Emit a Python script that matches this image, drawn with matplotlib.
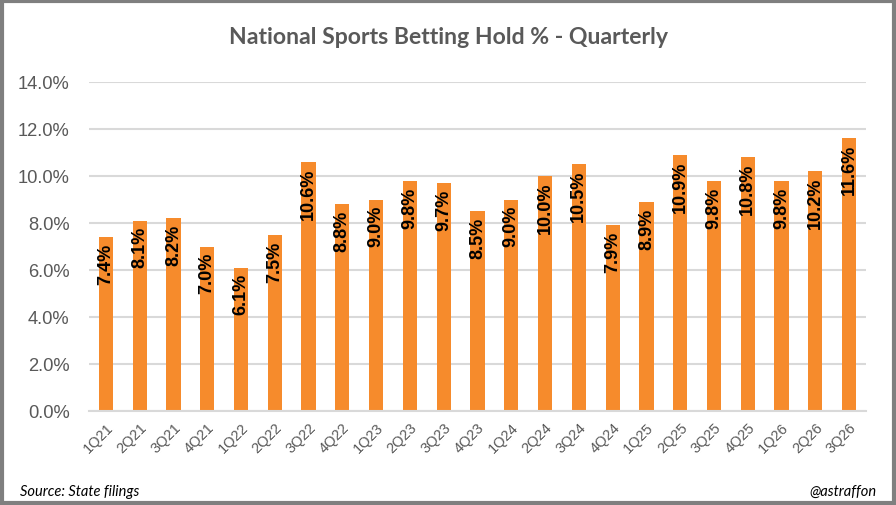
import matplotlib
matplotlib.use("Agg")
from matplotlib import pyplot as plt
from matplotlib.patches import Rectangle
from matplotlib.ticker import FuncFormatter, MultipleLocator

quarters = ["1Q21", "2Q21", "3Q21", "4Q21", "1Q22", "2Q22", "3Q22", "4Q22",
            "1Q23", "2Q23", "3Q23", "4Q23", "1Q24", "2Q24", "3Q24", "4Q24",
            "1Q25", "2Q25", "3Q25", "4Q25", "1Q26", "2Q26", "3Q26"]
hold_pct = [7.4, 8.1, 8.2, 7.0, 6.1, 7.5, 10.6, 8.8,
            9.0, 9.8, 9.7, 8.5, 9.0, 10.0, 10.5, 7.9,
            8.9, 10.9, 9.8, 10.8, 9.8, 10.2, 11.6]

BAR = "#F68B2C"
GRAY_TXT = "#595959"
GRID = "#D9D9D9"


def main():
  plt.rcParams["font.family"] = ["Liberation Sans", "DejaVu Sans"]

  fig = plt.figure(figsize=(8.96, 5.06), dpi=100)
  ax = fig.add_axes([89 / 896, 1 - 412 / 506, 777 / 896, 329 / 506])

  x = range(len(quarters))
  bars = ax.bar(x, hold_pct, width=0.42, color=BAR, zorder=3)

  ###################
  ## Bar labels
  ###################
  for rect, v in zip(bars, hold_pct):
    ax.annotate(f"{v:.1f}%",
                xy=(rect.get_x() + rect.get_width() / 2, rect.get_height()),
                xytext=(0, -4), textcoords="offset points",
                rotation=90, ha="center", va="top",
                fontsize=13, fontweight="bold", color="black", zorder=4)

  ###################
  ## Axes styling
  ###################
  ax.set_xlim(-0.5, len(quarters) - 0.5)
  ax.set_ylim(0, 14)
  ax.yaxis.set_major_locator(MultipleLocator(2))
  ax.yaxis.set_major_formatter(FuncFormatter(lambda v, p: f"{v:.1f}%"))
  ax.grid(axis="y", color=GRID, linewidth=1.5, zorder=0)
  for s in ["top", "right", "left"]:
    ax.spines[s].set_visible(False)
  ax.spines["bottom"].set_color(GRID)
  ax.spines["bottom"].set_linewidth(1.5)
  ax.spines["bottom"].set_zorder(5)

  ax.set_xticks(list(x))
  ax.set_xticklabels(quarters, rotation=45, ha="right", rotation_mode="anchor",
                     fontsize=10.5, color=GRAY_TXT)
  ax.tick_params(axis="x", length=0, pad=6)
  ax.tick_params(axis="y", length=0, pad=14, labelsize=13.2, labelcolor=GRAY_TXT)

  ###################
  ## Titles and notes
  ###################
  fig.text(0.5, 1 - 37 / 506, "National Sports Betting Hold % - Quarterly",
           ha="center", va="center", fontsize=16.6, fontweight="bold",
           color=GRAY_TXT, family="Lato")
  fig.text(20 / 896, 1 - 492 / 506, "Source: State filings", ha="left",
           va="center", fontsize=10.5, style="italic", color="black",
           family="Lato")
  fig.text(876 / 896, 1 - 492 / 506, "@astraffon", ha="right", va="center",
           fontsize=10.5, style="italic", color="black", family="Lato")

  fig.add_artist(Rectangle((0.002, 0.003), 0.996, 0.994, transform=fig.transFigure,
                           fill=False, edgecolor="#7F7F7F", linewidth=3))

  fig.savefig("out.png", dpi=100)
  plt.close(fig)


if __name__ == "__main__":
  main()
